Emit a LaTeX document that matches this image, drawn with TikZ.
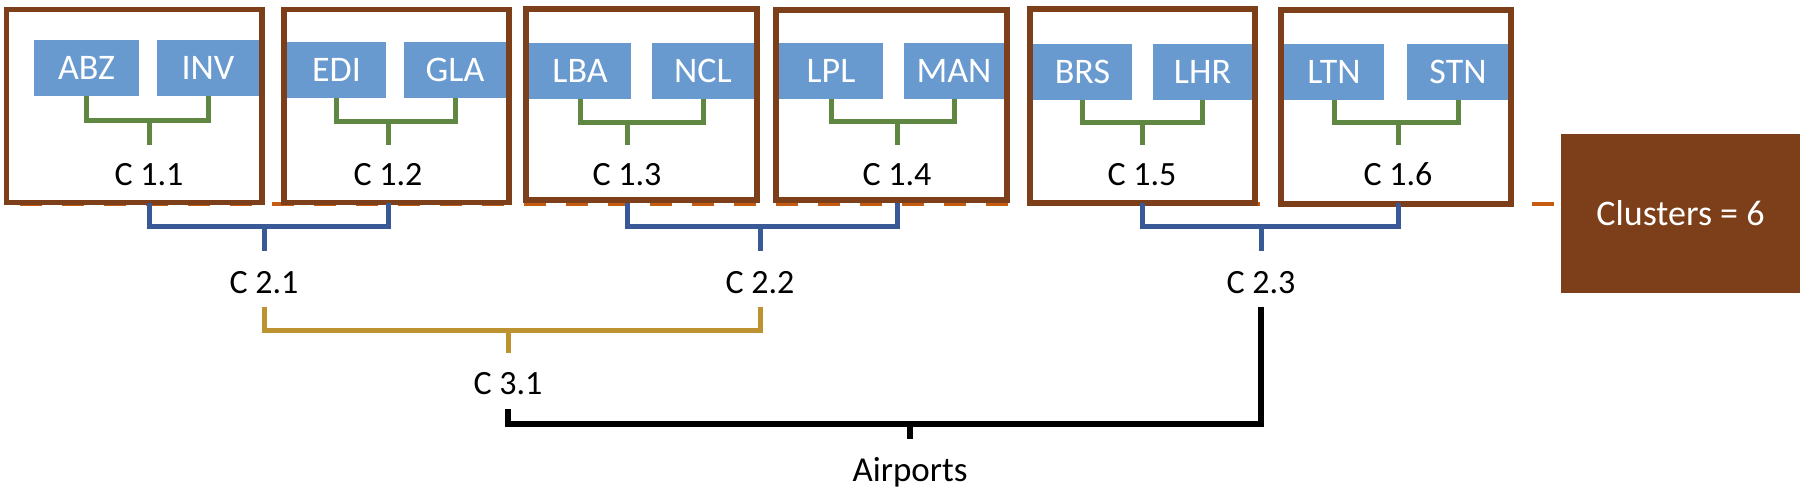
\documentclass[tikz,border=0pt]{standalone}
\usepackage{fontspec}
\setmainfont{Carlito}
\definecolor{boxbrown}{RGB}{124,63,26}
\definecolor{dashorange}{RGB}{197,90,17}
\definecolor{codeblue}{RGB}{104,154,208}
\definecolor{lgreen}{RGB}{95,135,65}
\definecolor{lblue}{RGB}{56,88,150}
\definecolor{lgold}{RGB}{188,147,48}
\tikzset{
  code/.style={fill=codeblue, text=white, inner sep=0pt, minimum height=56pt, font=\fontsize{36}{40}\selectfont},
  clbox/.style={draw=boxbrown, line width=5.5pt, inner sep=0pt},
  lab/.style={anchor=base, inner sep=0pt, font=\fontsize{34}{38}\selectfont},
  gbr/.style={draw=lgreen, line width=5pt},
  bbr/.style={draw=lblue, line width=5pt},
  obr/.style={draw=lgold, line width=5pt},
  kbr/.style={draw=black, line width=6pt},
  odash/.style={draw=dashorange, line width=4pt, dash pattern=on 22pt off 20pt, dash phase=22pt}
}
\begin{document}
\begin{tikzpicture}[x=1pt,y=-1pt]
\useasboundingbox (0,0) rectangle (1800,488);
% clusters legend box
\node[fill=boxbrown, text=white, inner sep=0pt, minimum width=239pt, minimum height=159pt,
      font=\fontsize{36}{40}\selectfont] (clusters) at (1680.5,213.5) {Clusters = 6};
\coordinate (dstart) at (0,204);
\draw[odash] (dstart) -- (dstart -| clusters.west);
% airport codes
\node[code, minimum width=105pt] (ABZ) at (86.5,68) {ABZ};
\node[code, minimum width=102pt] (INV) at (208,68) {INV};
\node[code, minimum width=99pt]  (EDI) at (336.5,70) {EDI};
\node[code, minimum width=102pt] (GLA) at (455,70) {GLA};
\node[code, minimum width=102pt] (LBA) at (580,71) {LBA};
\node[code, minimum width=102pt] (NCL) at (703,71) {NCL};
\node[code, minimum width=104pt] (LPL) at (831,71) {LPL};
\node[code, minimum width=100pt] (MAN) at (954,71) {MAN};
\node[code, minimum width=99pt]  (BRS) at (1082.5,71.5) {BRS};
\node[code, minimum width=99pt]  (LHR) at (1202.5,71.5) {LHR};
\node[code, minimum width=100pt] (LTN) at (1334,71.5) {LTN};
\node[code, minimum width=102pt] (STN) at (1458,71.5) {STN};
% brown cluster boxes
\node[clbox, minimum width=255.5pt, minimum height=193pt] (B1) at (134.25,106) {};
\node[clbox, minimum width=225pt, minimum height=193pt] (B2) at (396.5,106) {};
\node[clbox, minimum width=231pt, minimum height=191pt] (B3) at (641.5,104.5) {};
\node[clbox, minimum width=231pt, minimum height=190pt] (B4) at (891.5,105) {};
\node[clbox, minimum width=225pt, minimum height=194pt] (B5) at (1142.5,106) {};
\node[clbox, minimum width=230pt, minimum height=194pt] (B6) at (1396,107) {};
% level-1 labels
\node[lab] (c11) at (149,185) {C 1.1};
\node[lab] (c12) at (388,185) {C 1.2};
\node[lab] (c13) at (627,185) {C 1.3};
\node[lab] (c14) at (897,185) {C 1.4};
\node[lab] (c15) at (1142,185) {C 1.5};
\node[lab] (c16) at (1398,185) {C 1.6};
% level-2, 3 labels
\node[lab] (c21) at (264,293) {C 2.1};
\node[lab] (c22) at (760,293) {C 2.2};
\node[lab] (c23) at (1261,293) {C 2.3};
\node[lab] (c31) at (508,394) {C 3.1};
\node[lab, font=\fontsize{35}{40}\selectfont] (air) at (910,481) {Airports};
% green brackets
\foreach \a/\b/\c/\y in {ABZ/INV/c11/120, EDI/GLA/c12/121, LBA/NCL/c13/122, LPL/MAN/c14/121, BRS/LHR/c15/122, LTN/STN/c16/122}{
  \coordinate (j-\c) at (\c.base |- 0,\y);
  \draw[gbr] (\a.south) |- (j-\c) -| (\b.south);
  \draw[gbr] (j-\c) -- (\c.base |- 0,145);
}
% blue brackets
\foreach \a/\b/\c in {c11/c12/c21, c13/c14/c22, c15/c16/c23}{
  \coordinate (k-\c) at (\c.base |- 0,226);
  \draw[bbr] (\a.base |- 0,203) |- (k-\c) -| (\b.base |- 0,203);
  \draw[bbr] (k-\c) -- (\c.base |- 0,251);
}
% gold bracket
\coordinate (m31) at (c31.base |- 0,330);
\draw[obr] (c21.base |- 0,307) |- (m31) -| (c22.base |- 0,307);
\draw[obr] (m31) -- (c31.base |- 0,353);
% black bracket
\coordinate (mair) at (air.base |- 0,424);
\draw[kbr] (c31.base |- 0,409) |- (mair) -| (c23.base |- 0,307);
\draw[kbr] (mair) -- (air.base |- 0,439);
\end{tikzpicture}
\end{document}
